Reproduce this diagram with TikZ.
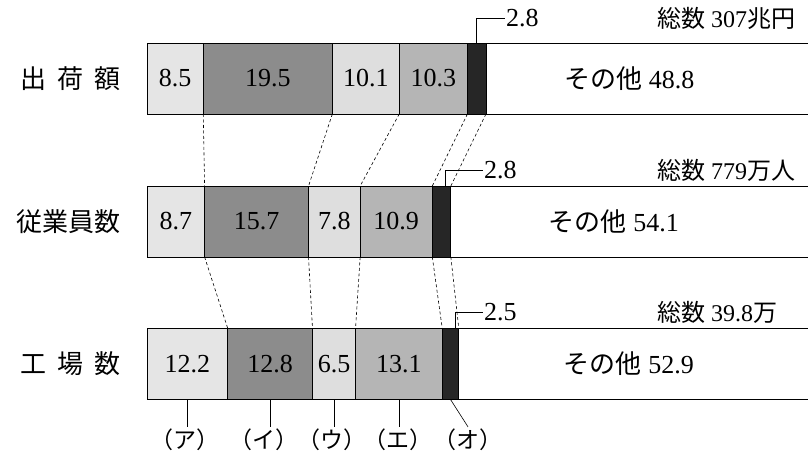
\documentclass[tikz,border=0pt]{standalone}
\usepackage{fontspec}
\setmainfont{Liberation Serif}
\newfontfamily\jp{Noto Sans CJK JP}
\usetikzlibrary{positioning}
\newcommand{\unitw}{6.62pt}
\tikzset{seg/.style={draw,line width=0.9pt,anchor=west,inner sep=0pt,outer sep=0pt,minimum height=71pt,font=\fontsize{26}{28}\selectfont},
  pct/.style={minimum width=#1*\unitw},
  tone a/.style={fill=black!10},
  tone b/.style={fill=black!45},
  tone c/.style={fill=black!13},
  tone d/.style={fill=black!29},
  tone e/.style={fill=black!85},
  link/.style={line width=0.6pt,dash pattern=on 3pt off 2.5pt},
  rowname/.style={anchor=east,font=\jp\fontsize{26}{28}\selectfont},
  numlbl/.style={anchor=west,inner sep=1pt,font=\fontsize{26}{28}\selectfont},
  total/.style={anchor=west,inner sep=0pt,font=\fontsize{24}{26}\selectfont},
  kind/.style={inner sep=2pt,font=\jp\fontsize{23}{25}\selectfont}}

\begin{document}
\begin{tikzpicture}[x=1pt,y=-1pt]
    \useasboundingbox (0,0) rectangle (808,457);
    % row names
    \node[rowname] (r1) at (124,78.5) {出\hspace{11pt}荷\hspace{11pt}額};
    \node[rowname] (r2) at (124,221.5) {従業員数};
    \node[rowname] (r3) at (124,364) {工\hspace{11pt}場\hspace{11pt}数};
    % shipments
    \node[seg,tone a,pct=8.5] (s1a) at (147,78.5) {8.5};
    \node[seg,tone b,pct=19.5,right=0pt of s1a] (s1b) {19.5};
    \node[seg,tone c,pct=10.1,right=0pt of s1b] (s1c) {10.1};
    \node[seg,tone d,pct=10.3,right=0pt of s1c] (s1d) {10.3};
    \node[seg,tone e,pct=2.8,right=0pt of s1d] (s1e) {};
    \node[seg,fill=white,pct=48.8,right=0pt of s1e,label={[xshift=-18pt,font=\fontsize{26}{28}\selectfont]center:{\jp その他} 48.8}] (s1f) {};
    % employees
    \node[seg,tone a,pct=8.7] (s2a) at (147,221.5) {8.7};
    \node[seg,tone b,pct=15.7,right=0pt of s2a] (s2b) {15.7};
    \node[seg,tone c,pct=7.8,right=0pt of s2b] (s2c) {7.8};
    \node[seg,tone d,pct=10.9,right=0pt of s2c] (s2d) {10.9};
    \node[seg,tone e,pct=2.8,right=0pt of s2d] (s2e) {};
    \node[seg,fill=white,pct=54.1,right=0pt of s2e,label={[xshift=-16pt,font=\fontsize{26}{28}\selectfont]center:{\jp その他} 54.1}] (s2f) {};
    % factories
    \node[seg,tone a,pct=12.2] (s3a) at (147,364) {12.2};
    \node[seg,tone b,pct=12.8,right=0pt of s3a] (s3b) {12.8};
    \node[seg,tone c,pct=6.5,right=0pt of s3b] (s3c) {6.5};
    \node[seg,tone d,pct=13.1,right=0pt of s3c] (s3d) {13.1};
    \node[seg,tone e,pct=2.5,right=0pt of s3d] (s3e) {};
    \node[seg,fill=white,pct=52.9,right=0pt of s3e,label={[xshift=-5pt,font=\fontsize{26}{28}\selectfont]center:{\jp その他} 52.9}] (s3f) {};
    % dashed links between the rows
    \foreach \k in {a,b,c,d,e} {
      \draw[link] (s1\k.south east) -- (s2\k.north east);
      \draw[link] (s2\k.south east) -- (s3\k.north east);
    }
    % small shares and totals
    \node[numlbl] (n1) at (505,18) {2.8};
    \node[numlbl] (n2) at (483,170) {2.8};
    \node[numlbl] (n3) at (483,312) {2.5};
    \draw[line width=0.6pt] (s1e.north) |- (n1.west);
    \draw[line width=0.6pt] ([xshift=4pt]s2e.north) |- (n2.west);
    \draw[line width=0.6pt] ([xshift=5pt]s3e.north) |- (n3.west);
    \node[total] (t1) at (657,18) {{\jp 総数} 307{\jp 兆円}};
    \node[total] (t2) at (657,170) {{\jp 総数} 779{\jp 万人}};
    \node[total] (t3) at (657,312) {{\jp 総数} 39.8{\jp 万}};
    % kinds
    \foreach \k/\xx/\kana in {a/185/ア, b/264/イ, c/332/ウ, d/398/エ, e/468/オ}
      \node[kind] (k\k) at (\xx,440) {（\kana）};
    \foreach \k in {a,b,c,d}
      \draw[line width=0.6pt] (s3\k.south) -- (s3\k.south |- k\k.north);
    \draw[line width=0.6pt] (s3e.south) -- (ke.north);
\end{tikzpicture}
\end{document}
